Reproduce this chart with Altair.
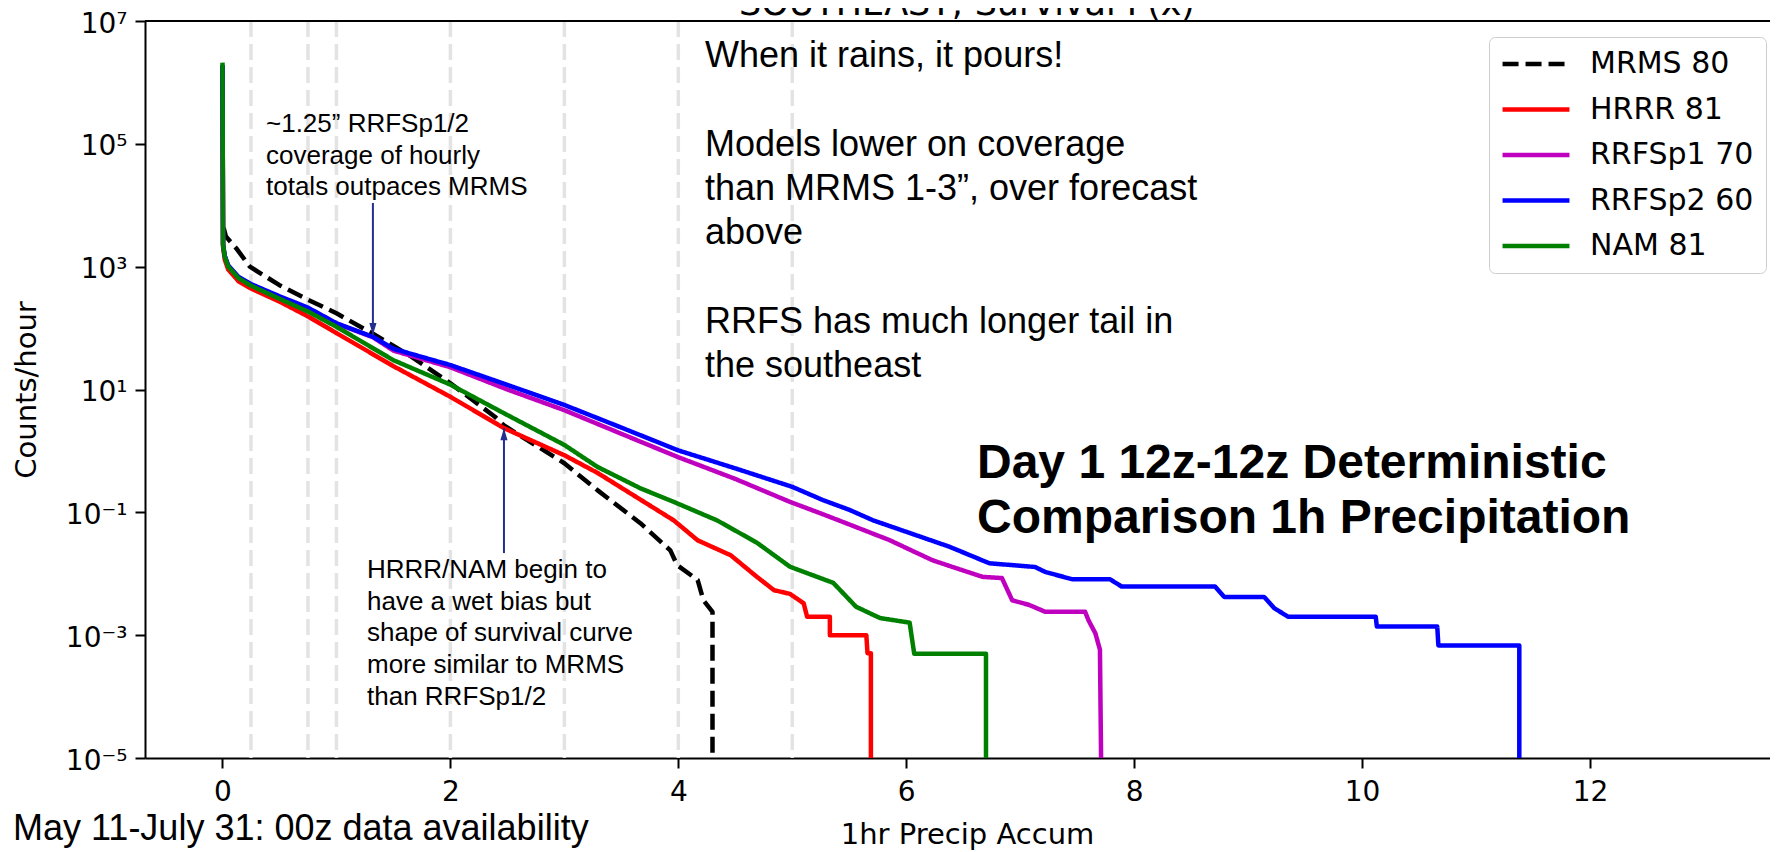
import altair as alt
import pandas as pd

# ---------------- data ----------------
series_names = ["MRMS 80", "HRRR 81", "RRFSp1 70", "RRFSp2 60", "NAM 81"]
series_colors = ["#000000", "#ff0000", "#bf00bf", "#0000ff", "#008000"]
series_dash = [[16, 7], [1, 0], [1, 0], [1, 0], [1, 0]]

mrms_x = [0.01, 0.03, 0.12, 0.24, 0.50, 0.75, 1.00, 1.32, 1.66, 2.00, 2.39, 2.47,
          3.00, 3.29, 3.67, 3.93, 3.99, 4.17, 4.22, 4.30, 4.30]
mrms_y = [4300, 3100, 2000, 1000, 500, 290, 174, 81, 34, 12.6, 3.6, 2.6,
          0.63, 0.23, 0.066, 0.024, 0.0138, 0.0079, 0.0037, 0.0024, 1e-5]

hrrr_x = [0, 0.005, 0.02, 0.05, 0.14, 0.25, 0.5, 0.75, 1.0, 1.5, 2.0, 2.47, 3.0,
          3.29, 3.67, 3.96, 4.17, 4.46, 4.69, 4.84, 4.98, 5.10, 5.13, 5.33, 5.33,
          5.65, 5.66, 5.69, 5.69]
hrrr_y = [1.9e6, 2100, 1300, 900, 580, 440, 270, 155, 83, 24, 7.6, 2.35, 0.85,
          0.44, 0.16, 0.074, 0.035, 0.02, 0.0089, 0.0054, 0.0047, 0.0033, 0.002,
          0.002, 0.001, 0.001, 0.00051, 0.00051, 1e-5]

rrfs1_x = [0, 0.005, 0.02, 0.05, 0.14, 0.25, 0.5, 0.75, 1.0, 1.32, 1.5, 2.0, 2.5,
           3.0, 3.5, 4.0, 4.5, 4.98, 5.27, 5.56, 5.85, 6.23, 6.44, 6.67, 6.84,
           6.93, 7.08, 7.22, 7.57, 7.60, 7.66, 7.70, 7.71]
rrfs1_y = [1.9e6, 2250, 1480, 1030, 670, 510, 320, 210, 118, 71, 43, 23, 10,
           4.6, 1.9, 0.79, 0.35, 0.148, 0.093, 0.0575, 0.0355, 0.0166, 0.0123,
           0.0089, 0.0085, 0.0037, 0.0031, 0.0024, 0.0024, 0.00174, 0.00107,
           0.00058, 1e-5]

rrfs2_x = [0, 0.005, 0.02, 0.05, 0.14, 0.25, 0.5, 0.75, 1.0, 1.32, 1.5, 2.0, 2.5,
           3.0, 3.5, 4.0, 4.5, 5.0, 5.27, 5.50, 5.71, 6.38, 6.73, 7.13, 7.22,
           7.46, 7.79, 7.89, 8.71, 8.79, 9.14, 9.23, 9.35, 10.12, 10.13, 10.66,
           10.67, 11.38, 11.38]
rrfs2_y = [1.9e6, 2300, 1500, 1050, 680, 520, 330, 215, 120, 72, 46, 25, 11.9,
           5.6, 2.4, 1.02, 0.52, 0.26, 0.158, 0.11, 0.074, 0.0275, 0.0148,
           0.0129, 0.0107, 0.0081, 0.0081, 0.0062, 0.0062, 0.0042, 0.0042,
           0.00275, 0.002, 0.002, 0.00138, 0.00138, 0.00068, 0.00068, 1e-5]

nam_x = [0, 0.005, 0.02, 0.05, 0.14, 0.25, 0.5, 0.75, 1.0, 1.5, 2.0, 2.46, 3.0,
         3.29, 3.67, 3.96, 4.34, 4.69, 4.98, 5.36, 5.56, 5.77, 6.03, 6.07, 6.70,
         6.70]
nam_y = [2.1e6, 2300, 1450, 1000, 650, 490, 300, 186, 105, 30, 12, 4.2, 1.25,
         0.55, 0.245, 0.148, 0.074, 0.032, 0.013, 0.0071, 0.0029, 0.0019,
         0.0016, 0.0005, 0.0005, 1e-5]

threshold_x = [0.25, 0.75, 1, 2, 3, 4, 5]

x_ticks = [0, 2, 4, 6, 8, 10, 12]
y_ticks = [1e7, 1e5, 1e3, 1e1, 1e-1, 1e-3, 1e-5]
y_tick_labels = ["10⁷", "10⁵", "10³", "10¹", "10⁻¹", "10⁻³", "10⁻⁵"]

# annotation arrows: x, tail value, tip value
arrow_down = {"x": [1.32], "y0": [1.09e4], "y1": [77]}
arrow_up = {"x": [2.47], "y0": [0.0217], "y1": [2.35]}

title_text = "SOUTHEAST; Survival F(x)"
slide_a = ["When it rains, it pours!"]
slide_b = ["Models lower on coverage", "than MRMS 1-3”, over forecast", "above"]
slide_c = ["RRFS has much longer tail in", "the southeast"]
bold_lines = ["Day 1 12z-12z Deterministic", "Comparison 1h Precipitation"]
note1_lines = ["~1.25” RRFSp1/2", "coverage of hourly", "totals outpaces MRMS"]
note2_lines = ["HRRR/NAM begin to", "have a wet bias but", "shape of survival curve",
               "more similar to MRMS", "than RRFSp1/2"]
footer_text = "May 11-July 31: 00z data availability"

# ---------------- build ----------------
rows = []
for name, xs, ys in zip(series_names,
                        [mrms_x, hrrr_x, rrfs1_x, rrfs2_x, nam_x],
                        [mrms_y, hrrr_y, rrfs1_y, rrfs2_y, nam_y]):
    for i, (xv, yv) in enumerate(zip(xs, ys)):
        rows.append({"series": name, "x": xv, "y": yv, "i": i})
df = pd.DataFrame(rows)

W, H = 1625, 737
MPL = "DejaVu Sans"
SLIDE = "Liberation Sans"
NAVY = "#232f8e"

xscale = alt.Scale(domain=[-0.68, 13.58], nice=False, zero=False)
yscale = alt.Scale(type="log", domain=[1e-5, 1e7], nice=False)

expr = ""
for v, lab in zip(y_ticks, y_tick_labels):
    expr += f"datum.value > {v/2} ? '{lab}' : "
expr += "''"

xaxis = alt.Axis(values=x_ticks, format="d", grid=False, domainColor="black",
                 domainWidth=2, tickColor="black", tickWidth=2, tickSize=10,
                 labelFont=MPL, labelFontSize=28, labelColor="black",
                 labelPadding=10, labelFlush=False,
                 title="1hr Precip Accum", titleFont=MPL, titleFontSize=29,
                 titleFontWeight="normal", titleColor="black", titleX=822,
                 titleY=85, titleAlign="center", titleBaseline="alphabetic")
yaxis = alt.Axis(values=y_ticks, labelExpr=expr, grid=False, domainColor="black",
                 domainWidth=2, tickColor="black", tickWidth=2, tickSize=10,
                 labelFont=MPL, labelFontSize=28, labelColor="black",
                 labelPadding=8, labelOffset=3, labelFlush=False,
                 title="Counts/hour", titleFont=MPL,
                 titleFontSize=29, titleFontWeight="normal", titleColor="black",
                 titleX=-119, titleAngle=270, titleBaseline="middle",
                 titleAlign="center")

legend = alt.Legend(title=None, orient="none", legendX=1344, legendY=16,
                    symbolType="M-4,0H4", symbolSize=280, symbolStrokeWidth=4.5,
                    labelFont=MPL, labelFontSize=30, labelColor="black",
                    labelLimit=0, symbolOffset=20, labelOffset=39,
                    rowPadding=15.5, padding=12,
                    fillColor="white", strokeColor="#cccccc", cornerRadius=6)

vlines = alt.Chart(pd.DataFrame({"x": threshold_x})).mark_rule(
    color="#e3e3e3", strokeWidth=3.5, strokeDash=[16, 7]
).encode(x=alt.X("x:Q", scale=xscale, axis=xaxis))

lines = alt.Chart(df).mark_line(strokeWidth=4.5, strokeJoin="round").encode(
    x=alt.X("x:Q", scale=xscale, axis=xaxis),
    y=alt.Y("y:Q", scale=yscale, axis=yaxis),
    color=alt.Color("series:N", scale=alt.Scale(domain=series_names, range=series_colors),
                    legend=legend),
    strokeDash=alt.StrokeDash("series:N", scale=alt.Scale(domain=series_names, range=series_dash),
                              legend=legend),
    order=alt.Order("i:Q"),
)

def arrow(d, shape):
    base = alt.Chart(pd.DataFrame(d))
    shaft = base.mark_rule(color=NAVY, strokeWidth=2).encode(
        x=alt.X("x:Q", scale=xscale, axis=xaxis),
        y=alt.Y("y0:Q", scale=yscale, axis=yaxis),
        y2="y1:Q")
    head = base.mark_point(shape=shape, filled=True, size=144, color=NAVY, opacity=1).encode(
        x=alt.X("x:Q", scale=xscale, axis=xaxis),
        y=alt.Y("y1:Q", scale=yscale, axis=yaxis))
    return shaft + head

one = pd.DataFrame({"k": [0]})

def text(lines_, x, y, size, font=SLIDE, weight="normal", lh=None, align="left"):
    kw = dict(text=lines_, font=font, fontSize=size, fontWeight=weight,
              color="black", align=align, baseline="alphabetic")
    if lh:
        kw["lineHeight"] = lh
    return alt.Chart(one).mark_text(**kw).encode(x=alt.value(x), y=alt.value(y))

top_spine = alt.Chart(one).mark_rule(color="black", strokeWidth=2).encode(
    x=alt.value(0), x2=alt.value(W), y=alt.value(0))

LH = 44.3
chart = alt.layer(
    vlines,
    lines,
    arrow(arrow_down, "M0,0L-0.6,-2L0.6,-2Z"),
    arrow(arrow_up, "M0,0L-0.6,2L0.6,2Z"),
    top_spine,
    text(title_text, 822, -6, 35, font=MPL, align="center"),
    text(slide_a, 560, 46, 36, lh=LH),
    text(slide_b, 560, 46 + 2 * LH, 36, lh=LH),
    text(slide_c, 560, 46 + 6 * LH, 36, lh=LH),
    text(bold_lines, 832, 457, 48, weight="bold", lh=55),
    text(note1_lines, 121, 111, 26, lh=31.6),
    text(note2_lines, 222, 557, 26, lh=31.7),
    text(footer_text, -132, 819, 36),
).properties(
    width=W, height=H, autosize="none",
    padding={"left": 137, "top": 13, "right": 0, "bottom": 92},
    background="white",
).configure_view(stroke=None)

chart.save("out.html", embed_options={"renderer": "svg", "actions": False})
